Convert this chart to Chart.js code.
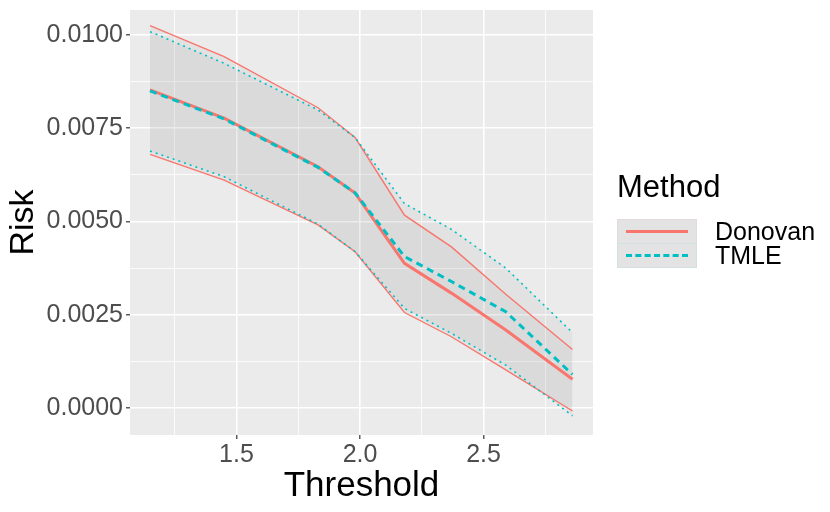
<!DOCTYPE html>
<html>
<head>
<meta charset="utf-8">
<script src="https://cdn.jsdelivr.net/npm/chart.js@4"></script>
<style>
    body { margin: 0; background: #fff; }
    #wrap { position: relative; width: 830px; height: 512px; }
    #legend { position: absolute; left: 617px; top: 169px; font-family: "Liberation Sans", Arial, sans-serif; }
    #legend .title { font-size: 31px; line-height: 36px; color: #000; margin-bottom: 14px; }
    .item { display: flex; align-items: center; height: 24px; }
    .key { width: 78px; height: 23px; background: #e3e3e3; position: relative; margin-right: 18px; }
    .key span { position: absolute; left: 8px; right: 8px; top: 10px; }
    .item label { font-size: 25px; color: #000; }
</style>
</head>
<body>
<div id="wrap">
    <canvas id="risk-chart" width="830" height="512"></canvas>
    <div id="legend">
        <div class="title">Method</div>
        <div class="item">
            <div class="key" style="border:1px solid rgba(248,118,109,0.08)"><span style="border-top:3px solid #F8766D"></span></div>
            <label>Donovan</label>
        </div>
        <div class="item">
            <div class="key" style="border:1px solid rgba(0,191,196,0.08)"><span style="border-top:3px dashed #00BFC4"></span></div>
            <label>TMLE</label>
        </div>
    </div>
</div>
<script>
const thresholds = [1.15, 1.45, 1.83, 1.98, 2.18, 2.37, 2.59, 2.86];

const donovanRisk  = [0.00853, 0.00777, 0.00647, 0.00576, 0.00388, 0.00308, 0.00209, 0.00077];
const donovanLower = [0.00680, 0.00611, 0.00491, 0.00419, 0.00256, 0.00191, 0.00102, -0.00008];
const donovanUpper = [0.01025, 0.00942, 0.00805, 0.00725, 0.00517, 0.00432, 0.00305, 0.00157];

const tmleRisk  = [0.00850, 0.00775, 0.00645, 0.00577, 0.00406, 0.00339, 0.00258, 0.00090];
const tmleLower = [0.00689, 0.00620, 0.00493, 0.00419, 0.00267, 0.00200, 0.00115, -0.00021];
const tmleUpper = [0.01009, 0.00924, 0.00799, 0.00725, 0.00548, 0.00479, 0.00375, 0.00202];

const xTicks = [1.25, 1.5, 1.75, 2.0, 2.25, 2.5, 2.75];
const yTicks = [0, 0.00125, 0.0025, 0.00375, 0.005, 0.00625, 0.0075, 0.00875, 0.01];

const red = '#F8766D';
const teal = '#00BFC4';
const ribbon = 'rgba(128,128,128,0.08)';

function pts(ys) {
    return thresholds.map((x, i) => ({ x: x, y: ys[i] }));
}

function isMajorX(v) { return Math.abs(v * 2 - Math.round(v * 2)) < 1e-6; }
function isMajorY(v) { return Math.abs(v / 0.0025 - Math.round(v / 0.0025)) < 1e-6; }

const font = "'Liberation Sans', Arial, sans-serif";

new Chart(document.getElementById('risk-chart').getContext('2d'), {
    type: 'line',
    data: {
        datasets: [
            { label: 'TMLE', data: pts(tmleRisk), borderColor: teal, borderWidth: 3, borderDash: [7, 5], fill: false },
            { label: 'Donovan', data: pts(donovanRisk), borderColor: red, borderWidth: 3, fill: false },
            { label: 'TMLE upper', data: pts(tmleUpper), borderColor: teal, borderWidth: 1.6, borderDash: [2, 4], backgroundColor: ribbon, fill: '+1' },
            { label: 'TMLE lower', data: pts(tmleLower), borderColor: teal, borderWidth: 1.6, borderDash: [2, 4], fill: false },
            { label: 'Donovan upper', data: pts(donovanUpper), borderColor: red, borderWidth: 1.4, backgroundColor: ribbon, fill: '+1' },
            { label: 'Donovan lower', data: pts(donovanLower), borderColor: red, borderWidth: 1.4, fill: false }
        ]
    },
    options: {
        responsive: false,
        animation: false,
        events: [],
        elements: { point: { radius: 0 }, line: { tension: 0 } },
        layout: { padding: { left: 0, top: 10, right: 237, bottom: 0 } },
        plugins: {
            legend: { display: false },
            tooltip: { enabled: false },
            filler: { drawTime: 'beforeDatasetsDraw' }
        },
        scales: {
            x: {
                type: 'linear',
                min: 1.069,
                max: 2.943,
                afterBuildTicks: s => { s.ticks = xTicks.map(v => ({ value: v })); },
                afterFit: s => { s.height = 77; s.paddingLeft = 0; s.paddingRight = 0; },
                grid: {
                    color: c => '#ffffff',
                    lineWidth: c => isMajorX(c.tick.value) ? 1.6 : 0.8,
                    tickColor: c => isMajorX(c.tick.value) ? '#333333' : 'rgba(0,0,0,0)',
                    tickLength: 4,
                    tickWidth: 1.2
                },
                border: { display: false },
                ticks: {
                    autoSkip: false,
                    maxRotation: 0,
                    padding: 1,
                    color: '#4D4D4D',
                    font: { family: font, size: 25 },
                    callback: v => isMajorX(v) ? v.toFixed(1) : ''
                },
                title: {
                    display: true,
                    text: 'Threshold',
                    color: '#000',
                    font: { family: font, size: 35 },
                    padding: { top: 0, bottom: 5 }
                }
            },
            y: {
                type: 'linear',
                min: -0.000724,
                max: 0.01067,
                afterBuildTicks: s => { s.ticks = yTicks.map(v => ({ value: v })); },
                afterFit: s => { s.width = 130; s.paddingTop = 0; s.paddingBottom = 0; },
                grid: {
                    color: c => '#ffffff',
                    lineWidth: c => isMajorY(c.tick.value) ? 1.6 : 0.8,
                    tickColor: c => isMajorY(c.tick.value) ? '#333333' : 'rgba(0,0,0,0)',
                    tickLength: 4,
                    tickWidth: 1.2
                },
                border: { display: false },
                ticks: {
                    autoSkip: false,
                    padding: 3,
                    color: '#4D4D4D',
                    font: { family: font, size: 25 },
                    callback: v => isMajorY(v) ? v.toFixed(4) : ''
                },
                title: {
                    display: true,
                    text: 'Risk',
                    color: '#000',
                    font: { family: font, size: 34 },
                    padding: { top: 3, bottom: 0 }
                }
            }
        }
    },
    plugins: [{
        id: 'panelBg',
        beforeDraw(chart) {
            const a = chart.chartArea;
            const ctx = chart.ctx;
            ctx.save();
            ctx.fillStyle = '#EBEBEB';
            ctx.fillRect(a.left, a.top, a.right - a.left, a.bottom - a.top);
            ctx.restore();
        }
    }]
});
</script>
</body>
</html>
